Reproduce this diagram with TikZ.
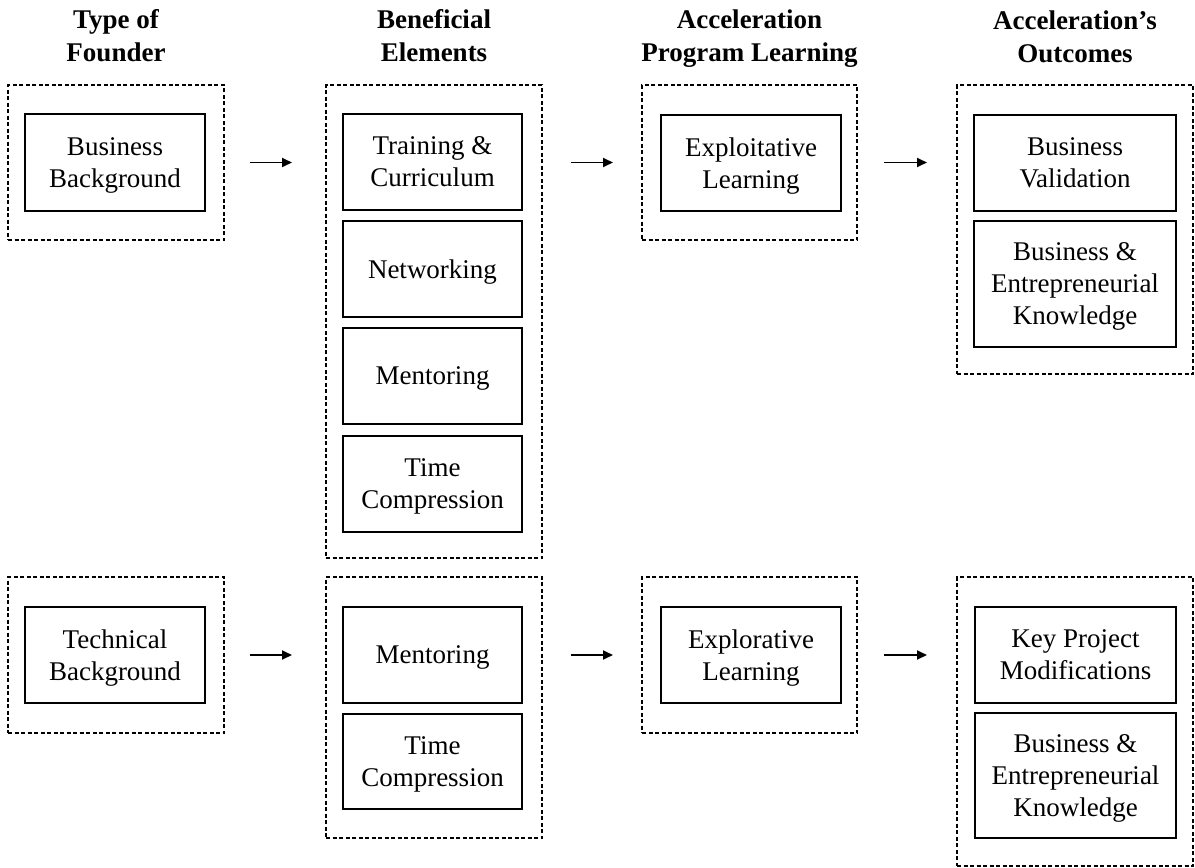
\documentclass[tikz,border=0pt]{standalone}
\usepackage{fontspec}
\setmainfont{Liberation Serif}
\usetikzlibrary{arrows.meta}
\tikzset{
  dbox/.style={draw, dash pattern=on 4pt off 2.5pt, line width=1.2pt, inner sep=0pt, outer sep=0pt},
  ibox/.style={draw, line width=1.6pt, align=center, inner sep=0pt, outer sep=0pt, text depth=0pt, font=\fontsize{27}{32}\selectfont},
  hdr/.style={align=center, font=\bfseries\fontsize{27}{33}\selectfont, anchor=base, inner sep=0pt},
  arr/.style={line width=1.8pt, -{Triangle[length=10pt,width=9pt]}}
}
\begin{document}
\begin{tikzpicture}[x=1pt,y=-1pt]
\useasboundingbox (0,0) rectangle (1195,868);
% headers
\node[hdr] (h1) at (116,61) {Type of\\Founder};
\node[hdr] (h2) at (434,61) {Beneficial\\Elements};
\node[hdr] (h3) at (749.5,61) {Acceleration\\Program Learning};
\node[hdr] (h4) at (1075,62) {Acceleration’s\\Outcomes};
% row 1 dashed groups
\node[dbox, minimum width=216pt, minimum height=155pt] (d1) at (116,162.5) {};
\node[dbox, minimum width=216pt, minimum height=473pt] (d2) at (434,321.5) {};
\node[dbox, minimum width=215pt, minimum height=155pt] (d3) at (749.5,162.5) {};
\node[dbox, minimum width=236pt, minimum height=289pt] (d4) at (1075,229.5) {};
% row 1 boxes
\node[ibox, minimum width=180pt, minimum height=97pt] (b1) at (115,162.5) {Business\\Background};
\node[ibox, minimum width=179pt, minimum height=96pt] (t1) at (432.5,162) {Training \&\\Curriculum};
\node[ibox, minimum width=179pt, minimum height=96pt] (n1) at (432.5,269) {Networking};
\node[ibox, minimum width=179pt, minimum height=96pt] (m1) at (432.5,376) {Mentoring};
\node[ibox, minimum width=179pt, minimum height=96pt] (tc1) at (432.5,484) {Time\\Compression};
\node[ibox, minimum width=180pt, minimum height=96pt] (e1) at (751,163) {Exploitative\\Learning};
\node[ibox, minimum width=202pt, minimum height=96pt] (v1) at (1075,163) {Business\\Validation};
\node[ibox, minimum width=202pt, minimum height=126pt] (k1) at (1075,284) {Business \&\\Entrepreneurial\\Knowledge};
% row 2 dashed groups
\node[dbox, minimum width=216pt, minimum height=156pt] (d5) at (116,655) {};
\node[dbox, minimum width=216pt, minimum height=261pt] (d6) at (434,707.5) {};
\node[dbox, minimum width=215pt, minimum height=156pt] (d7) at (749.5,655) {};
\node[dbox, minimum width=236pt, minimum height=289pt] (d8) at (1075,721.5) {};
% row 2 boxes
\node[ibox, minimum width=180pt, minimum height=96pt] (b2) at (115,655) {Technical\\Background};
\node[ibox, minimum width=179pt, minimum height=96pt] (m2) at (432.5,655) {Mentoring};
\node[ibox, minimum width=179pt, minimum height=95pt] (tc2) at (432.5,761.5) {Time\\Compression};
\node[ibox, minimum width=180pt, minimum height=96pt] (e2) at (751,655) {Explorative\\Learning};
\node[ibox, minimum width=201pt, minimum height=96pt] (p2) at (1075.5,655) {Key Project\\Modifications};
\node[ibox, minimum width=201pt, minimum height=125pt] (k2) at (1075.5,775.5) {Business \&\\Entrepreneurial\\Knowledge};
% arrows
\draw[arr, shorten <=26pt, shorten >=34pt] (d1.east) -- (d1.east -| d2.west);
\draw[arr, shorten <=29pt, shorten >=29pt] (d1.east -| d2.east) -- (d3.west);
\draw[arr, shorten <=27pt, shorten >=30pt] (d3.east) -- (d3.east -| d4.west);
\draw[arr, shorten <=26pt, shorten >=34pt] (d5.east) -- (d5.east -| d6.west);
\draw[arr, shorten <=29pt, shorten >=29pt] (d5.east -| d6.east) -- (d7.west);
\draw[arr, shorten <=27pt, shorten >=30pt] (d7.east) -- (d7.east -| d8.west);
\end{tikzpicture}
\end{document}
